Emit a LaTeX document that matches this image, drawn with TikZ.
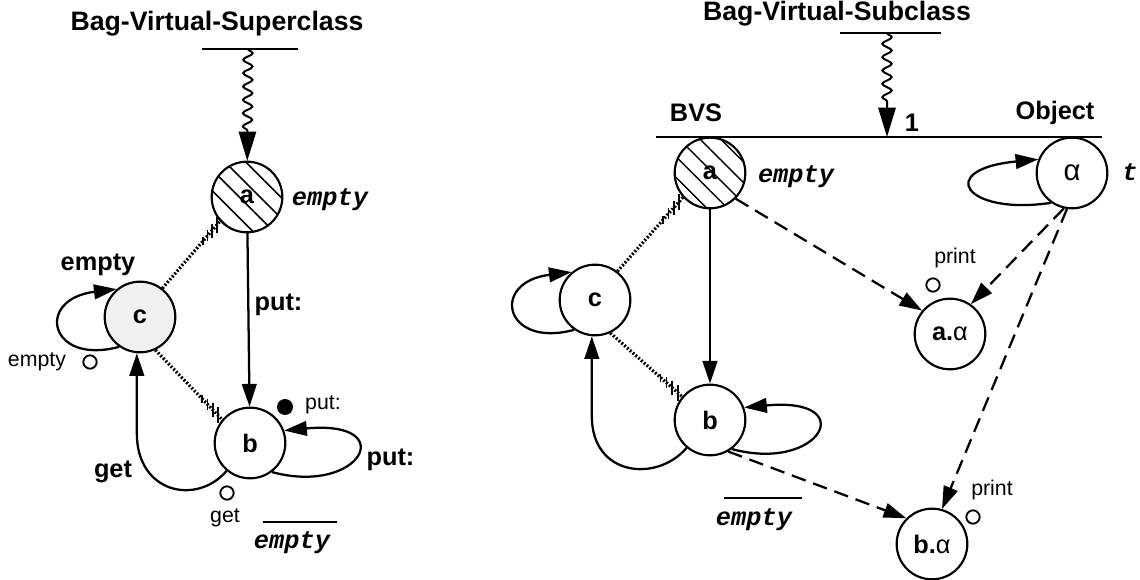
\documentclass[tikz,border=0pt]{standalone}
\usepackage{fontspec}
\setmainfont{Liberation Sans}
\setmonofont{Liberation Mono}
\usetikzlibrary{arrows.meta,calc,decorations.pathmorphing,patterns.meta}
\newcommand\lblfont{\fontsize{19}{22}\selectfont\bfseries}
\newcommand\tagfont{\fontsize{16}{19}\selectfont}
\newcommand\codefont{\fontsize{19}{22}\selectfont\ttfamily\bfseries\itshape}
\tikzset{
  >={Triangle[length=17pt,width=11pt]},
  state/.style={circle,draw,line width=1.6pt,minimum size=53pt,inner sep=0pt,font=\lblfont},
  hatched/.style={pattern={Lines[angle=-45,distance=11pt,line width=1.1pt]}},
  flow/.style={->,line width=1.7pt},
  link/.style={->,line width=1.7pt,dash pattern=on 11pt off 6pt},
  inherit/.style={-{Triangle[length=22pt,width=13pt]},line width=1.5pt,decorate,
    decoration={snake,segment length=10pt,amplitude=3.5pt,post length=22pt}},
  dots/.style={line width=2.4pt,dash pattern=on 1.4pt off 1.4pt},
  port/.style={circle,draw,line width=1.4pt,minimum size=10pt,inner sep=0pt},
  lab/.style={font=\lblfont,inner sep=1pt},
  tag/.style={font=\tagfont,inner sep=1pt},
  code/.style={font=\codefont,inner sep=1pt},
  title/.style={font=\fontsize{20}{23}\selectfont\bfseries,anchor=base},
  bar/.style={line width=1.5pt},
}
\begin{document}
\begin{tikzpicture}[x=0.75pt,y=-0.75pt]
  \useasboundingbox (0,0) rectangle (1140,580);
  % the two bags: states a, b, c with their transitions
  \foreach \s/\ax/\ay/\bx/\by/\cx/\cy/\f in {L/247/197/250/443/140/317/black!6,R/710/173/710/420/595/300/white}
  {
    \node[state,hatched] (a\s) at (\ax,\ay) {a};
    \node[state] (b\s) at (\bx,\by) {b};
    \node[state,fill=\f] (c\s) at (\cx,\cy) {c};
    \draw[flow] (a\s) -- (b\s);
    \draw[flow] (c\s.235) .. controls +(-70,19) and +(-82,10) .. (c\s.130);
    \draw[flow] (b\s.307) .. controls +(89,24) and +(117,-11) .. (b\s.20);
    \draw[flow] (b\s.230) .. controls +(-30,35) and +(0,60) .. ($(c\s.265)+(0,80)$) -- (c\s.265);
    \draw[dots] (c\s.52) -- (a\s.222);
    \draw[dots] (c\s.295) -- (b\s.140);
    \foreach \t/\h in {0.7/4,0.78/5.5,0.86/7,0.94/8}
    {
      \draw[line width=1.2pt] ($(c\s.52)!\t!(a\s.222)$) +(0,-\h) -- +(0,\h);
      \draw[line width=1.2pt] ($(c\s.295)!\t!(b\s.140)$) +(0,-\h) -- +(0,\h);
    }
  }
  % left: superclass
  \node[title] (supT) at (217,31) {Bag-Virtual-Superclass};
  \coordinate (supB) at (248,49);
  \draw[bar] (202,49) -- (298,49);
  \draw[inherit] (supB) -- (aL);
  \node[code] (emA) at (330,200) {empty};
  \node[lab] (emC) at (98,265) {empty};
  \node[lab,anchor=west] (putA) at (253,305) {put:};
  \node[tag] (emT) at (37,362) {empty};
  \node[port] (emP) at (90,362) {};
  \node[circle,fill,minimum size=12pt,inner sep=0pt] (putD) at (285,407) {};
  \node[tag] (putT) at (323,405) {put:};
  \node[lab,anchor=west] (putB) at (365,460) {put:};
  \node[lab] (getB) at (113,472) {get};
  \node[port] (getP) at (227,493) {};
  \node[tag] (getT) at (225,518) {get};
  \draw[line width=1pt] (263,522) -- (337,522);
  \node[code] (emL) at (292,543) {empty};
  % right: subclass
  \node[title] (subT) at (837,21) {Bag-Virtual-Subclass};
  \coordinate (subB) at (887,33);
  \coordinate (subJ) at (887,137);
  \draw[bar] (840,33) -- (941,33);
  \draw[inherit] (subB) -- (subJ);
  \draw[bar] (656,137) -- (1102,137);
  \node[lab] (one) at (912,123) {1};
  \node[lab] (bvs) at (696,113) {BVS};
  \node[lab] (obj) at (1055,113) {Object};
  \node[code] (emR) at (796,177) {empty};
  \node[state,font=\fontsize{22}{25}\selectfont] (al) at (1072,173) {α};
  \node[code] (tt) at (1130,172) {t};
  \draw[flow] (al.235) .. controls +(-86,13) and +(-104,10) .. (al.158);
  \node[state] (aa) at (950,334) {a.\textmd{α}};
  \node[state] (ba) at (932,544) {b.\textmd{α}};
  \draw[link] (aR.315) -- (aa.140);
  \draw[link] (al.257) -- (aa.55);
  \draw[link] (al.262) -- (ba.74);
  \draw[link] (bR.300) -- (ba.135);
  \node[tag] (prA) at (955,258) {print};
  \node[port] (poA) at (933,285) {};
  \node[tag] (prB) at (992,490) {print};
  \node[port] (poB) at (973,517) {};
  \draw[line width=1pt] (724,498) -- (802,498);
  \node[code] (emB) at (754,520) {empty};
\end{tikzpicture}
\end{document}
